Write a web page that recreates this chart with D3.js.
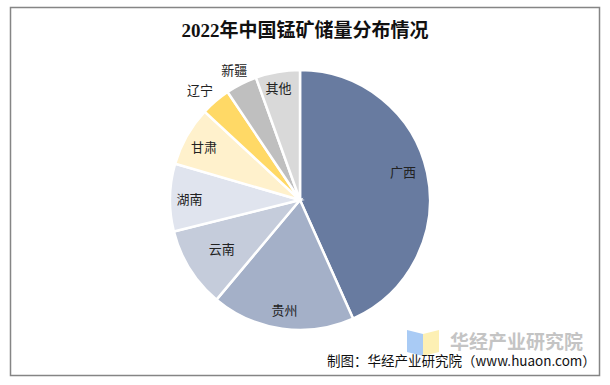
<!DOCTYPE html>
<html>
<head>
<meta charset="utf-8">
<script src="https://cdn.jsdelivr.net/npm/d3@7"></script>
<style>
  body { margin: 0; background: #fff; }
  text { font-family: "Noto Sans CJK SC", "Noto Sans", sans-serif; }
</style>
</head>
<body>
<div id="chart"></div>
<script>
// 2022年中国锰矿储量分布情况 (share, %)
const regions = ["广西", "贵州", "云南", "湖南", "甘肃", "辽宁", "新疆", "其他"];
const shares = [43.3, 17.8, 10.0, 8.4, 7.4, 3.7, 3.9, 5.5];
const colors = ["#687ba0", "#a4b0c8", "#c5ccdb", "#e0e4ee", "#fff1cc", "#ffd966", "#bfbfbf", "#d9d9d9"];

const width = 610, height = 385;
const cx = 300, cy = 200, radius = 130;

const data = regions.map((r, i) => ({ name: r, value: shares[i] }));

const svg = d3.select("#chart")
	.append("svg")
	.attr("width", width)
	.attr("height", height);

svg.append("rect")
	.attr("x", 10.5)
	.attr("y", 7.5)
	.attr("width", 589)
	.attr("height", 368)
	.attr("fill", "#fff")
	.attr("stroke", "#858585")
	.attr("stroke-width", 1.5);

svg.append("text")
	.attr("x", 305)
	.attr("y", 37)
	.attr("text-anchor", "middle")
	.style("font-family", "'Liberation Serif', 'Noto Sans CJK SC', serif")
	.style("font-size", "19px")
	.style("font-weight", "bold")
	.attr("fill", "#111")
	.text("2022年中国锰矿储量分布情况");

const pie = d3.pie().sort(null).value(d => d.value);
const arc = d3.arc().innerRadius(0).outerRadius(radius);

const g = svg.append("g")
	.attr("transform", "translate(" + cx + "," + cy + ")");

const arcs = pie(data);

g.selectAll("path")
	.data(arcs)
	.enter().append("path")
	.attr("d", arc)
	.attr("fill", (d, i) => colors[i])
	.attr("stroke", "#fff")
	.attr("stroke-width", 2.5);

// label radius / angle nudge per slice (small ones sit outside)
const labelR = [0.82, 0.86, 0.71, 0.85, 0.84, 1.14, 1.12, 0.875];
const labelNudge = [-3, 0, 0, -1, -1, -2, 0, -1];
g.selectAll(".lbl")
	.data(arcs)
	.enter().append("text")
	.attr("class", "lbl")
	.attr("transform", (d, i) => {
		const a = (d.startAngle + d.endAngle) / 2 + labelNudge[i] * Math.PI / 180;
		const r = radius * labelR[i];
		return "translate(" + (Math.sin(a) * r) + "," + (-Math.cos(a) * r) + ")";
	})
	.attr("text-anchor", "middle")
	.attr("dy", "0.35em")
	.style("font-size", "13px")
	.attr("fill", "#222")
	.text(d => d.data.name);

// watermark logo
svg.append("path")
	.attr("d", "M407,330 L423,334 L423,356 L407,352 Z")
	.attr("fill", "#a9cbf5");
svg.append("path")
	.attr("d", "M423,334 L439,330 L439,352 L423,356 Z")
	.attr("fill", "#fdf0b4");
svg.append("text")
	.attr("x", 450)
	.attr("y", 349)
	.style("font-size", "19px")
	.style("font-weight", "bold")
	.attr("fill", "#c4c4c4")
	.text("华经产业研究院");

svg.append("text")
	.attr("x", 327)
	.attr("y", 366)
	.style("font-size", "13.5px")
	.attr("fill", "#111")
	.text("制图：华经产业研究院（www.huaon.com）");
</script>
</body>
</html>
